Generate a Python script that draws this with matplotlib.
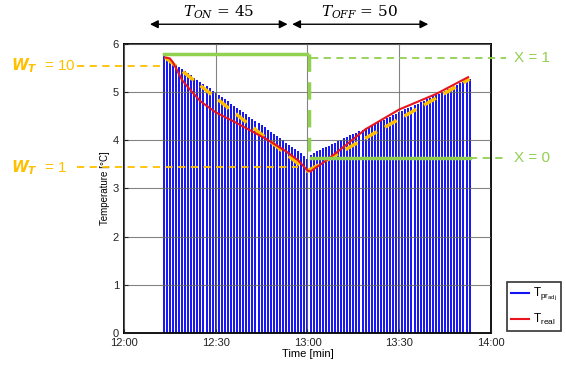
import matplotlib

matplotlib.use("Agg")
import matplotlib.pyplot as plt

plt.rcParams["font.family"] = ["Liberation Sans", "DejaVu Sans"]
plt.rcParams["mathtext.fontset"] = "dejavusans"

# minutes after 12:00
ON_MIN = list(range(13, 61))
ON_TOP = [5.75, 5.72, 5.66, 5.62, 5.57, 5.53, 5.48, 5.44, 5.39, 5.35, 5.30, 5.26,
          5.21, 5.17, 5.12, 5.08, 5.03, 4.99, 4.94, 4.90, 4.85, 4.81, 4.76, 4.72,
          4.67, 4.63, 4.58, 4.54, 4.49, 4.45, 4.40, 4.36, 4.31, 4.27, 4.22, 4.18,
          4.13, 4.09, 4.04, 4.00, 3.95, 3.91, 3.86, 3.82, 3.77, 3.73, 3.68, 3.62]
OFF_MIN = list(range(61, 114))
OFF_TOP = [3.70, 3.74, 3.77, 3.80, 3.83, 3.86, 3.89, 3.92, 3.95, 3.98, 4.01, 4.04,
           4.07, 4.10, 4.13, 4.16, 4.19, 4.22, 4.25, 4.28, 4.31, 4.34, 4.37, 4.40,
           4.43, 4.46, 4.49, 4.52, 4.55, 4.58, 4.61, 4.64, 4.67, 4.70, 4.73, 4.76,
           4.79, 4.82, 4.85, 4.88, 4.91, 4.94, 4.97, 5.00, 5.03, 5.06, 5.09, 5.12,
           5.15, 5.18, 5.21, 5.24, 5.27]

REAL_MIN = [13.5, 15, 16, 17, 19, 21.5, 25, 30, 35.6, 40, 46.7, 53, 57, 60, 61,
            62, 65, 69.6, 79, 90, 102, 112.5]
REAL_T = [5.72, 5.70, 5.62, 5.50, 5.25, 5.06, 4.81, 4.58, 4.40, 4.25, 4.02, 3.77,
          3.58, 3.37, 3.35, 3.40, 3.53, 3.75, 4.23, 4.64, 4.96, 5.31]

APPROX_MIN = [13.5, 60, 113]
APPROX_T = [5.72, 3.36, 5.27]

X_ON, X_OFF = 5.79, 3.63
W_HI, W_LO = 5.55, 3.44

TICKS = [0, 30, 60, 90, 120]
TICK_LABELS = ["12:00", "12:30", "13:00", "13:30", "14:00"]

ORANGE = "#FFC000"
GREEN = "#92D050"
BLUE = "#1414f0"
RED = "#e8141e"

fig = plt.figure(figsize=(5.66, 3.65), dpi=100)
ax = fig.add_axes([0.219, 0.088, 0.6485, 0.7915])

ax.vlines(ON_MIN + OFF_MIN, 0, ON_TOP + OFF_TOP, color=BLUE, lw=1.4, zorder=1)
ax.plot(APPROX_MIN, APPROX_T, color=ORANGE, lw=2.5, ls=(0, (4, 2.5)), zorder=4)
ax.plot(REAL_MIN, REAL_T, color=RED, lw=1.5, zorder=5)

# green control signal
ax.plot([13, 60], [X_ON, X_ON], color=GREEN, lw=2.5, zorder=6)
ax.plot([60.5, 60.5], [X_ON, X_OFF + 0.15], color=GREEN, lw=2.5,
        ls=(0, (5, 3)), zorder=6)
ax.plot([61, 113], [X_OFF, X_OFF], color=GREEN, lw=2.5, zorder=6)
ax.plot([61, 125], [5.71, 5.71], color=GREEN, lw=1.3, ls=(0, (4, 3)),
        clip_on=False, zorder=6)
ax.plot([113, 125], [X_OFF, X_OFF], color=GREEN, lw=1.3, ls=(0, (4, 3)),
        clip_on=False, zorder=6)
ax.text(127.5, 5.71, "X = 1", color=GREEN, fontsize=11, va="center", ha="left")
ax.text(127.5, X_OFF, "X = 0", color=GREEN, fontsize=11, va="center", ha="left")

# weight annotations on the left
ax.plot([-15.5, 13], [W_HI, W_HI], color=ORANGE, lw=1.3, ls=(0, (4, 3)),
        clip_on=False, zorder=3)
ax.plot([-15.5, 57], [W_LO, W_LO], color=ORANGE, lw=1.3, ls=(0, (4, 3)),
        clip_on=False, zorder=3)
ax.text(-37, W_HI, r"$\mathbfit{W}_{\mathbfit{T}}$  = 10", color=ORANGE,
        fontsize=11, va="center", ha="left")
ax.text(-37, W_LO, r"$\mathbfit{W}_{\mathbfit{T}}$  = 1", color=ORANGE,
        fontsize=11, va="center", ha="left")

# phase arrows on top
for x0, x1, xt, lab in [(8.5, 53.5, 31, r"$T_{ON}$ = 45"),
                        (55, 99.5, 77, r"$T_{OFF}$ = 50")]:
    ax.annotate("", xy=(x0, 6.41), xytext=(x1, 6.41), annotation_clip=False,
                arrowprops=dict(arrowstyle="<|-|>", color="black", lw=1,
                                mutation_scale=12, shrinkA=0, shrinkB=0))
    ax.text(xt, 6.66, lab, fontsize=11, ha="center", va="center",
            family="DejaVu Serif", math_fontfamily="dejavuserif")

ax.set_xlim(0, 120)
ax.set_ylim(0, 6)
ax.set_xticks(TICKS)
ax.set_xticklabels(TICK_LABELS)
ax.set_yticks(range(7))
ax.tick_params(direction="in", labelsize=8, length=3, colors="#222222")
ax.grid(True, color="#666666", lw=0.8, alpha=0.8, zorder=2)
ax.set_axisbelow(False)
for s in ax.spines.values():
    s.set_linewidth(1.3)
ax.set_xlabel("Time [min]", fontsize=8, labelpad=1)
ax.set_ylabel("Temperature [°C]", fontsize=7, labelpad=2)

h1, = ax.plot([], [], color=BLUE, lw=1.5)
h2, = ax.plot([], [], color=RED, lw=1.5)
leg = fig.legend([h1, h2], [r"T$_{\mathregular{pr}_{\mathregular{adj}}}$",
                            r"T$_{\mathregular{real}}$"],
                 loc="upper left", bbox_to_anchor=(0.896, 0.227),
                 borderaxespad=0, fontsize=8.5, frameon=True, fancybox=False,
                 handlelength=1.5, handletextpad=0.3, borderpad=0.35,
                 labelspacing=0.7)
leg.get_frame().set_edgecolor("black")
leg.get_frame().set_linewidth(1.2)

fig.savefig("out.png", dpi=100)
